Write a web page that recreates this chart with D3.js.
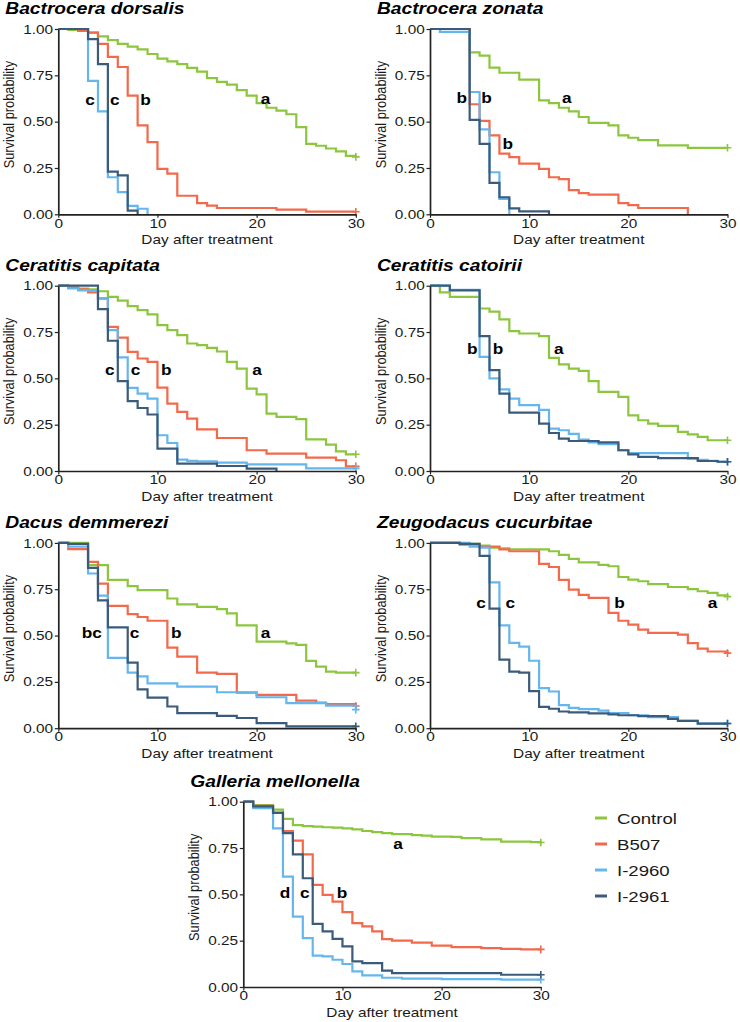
<!DOCTYPE html>
<html>
<head>
<meta charset="utf-8">
<script src="https://cdn.jsdelivr.net/npm/d3@7"></script>
<style>
  html, body { margin: 0; padding: 0; background: #fff; }
  svg { display: block; font-family: "Liberation Sans", Arial, Helvetica, sans-serif; }
</style>
</head>
<body>
<svg id="chart" width="740" height="1022"></svg>
<script>
// ---------------- DATA ----------------
const groups = ["Control", "B507", "I-2960", "I-2961"];
const groupColors = ["#8CC63F", "#F2694B", "#66B6EE", "#3B5B7B"];
const xTicks = [0, 10, 20, 30];
const yTicks = [0, 0.25, 0.5, 0.75, 1];
const yTickLabels = ["0.00", "0.25", "0.50", "0.75", "1.00"];
const xAxisTitle = "Day after treatment";
const yAxisTitle = "Survival probability";

// survival probability per day (index = day), curve stops where it reaches 0
const dorsalisControl = [1,0.995,0.99,0.98,0.96,0.94,0.92,0.905,0.89,0.865,0.84,0.825,0.81,0.79,0.77,0.735,0.715,0.70,0.67,0.64,0.60,0.575,0.56,0.54,0.47,0.38,0.37,0.355,0.34,0.315,0.31];
const dorsalisB507 = [1,1,0.99,0.98,0.92,0.85,0.795,0.64,0.48,0.39,0.245,0.22,0.10,0.10,0.06,0.047,0.034,0.034,0.034,0.034,0.034,0.034,0.025,0.025,0.025,0.014,0.014,0.014,0.014,0.014,0.014];
const dorsalisI2960 = [1,1,1,0.72,0.555,0.20,0.12,0.045,0.03,0];
const dorsalisI2961 = [1,1,1,0.945,0.81,0.23,0.21,0.02,0];
const dorsalisLetters = [[3.2,0.615,"c"],[5.7,0.615,"c"],[8.8,0.615,"b"],[20.9,0.62,"a"]];

const zonataControl = [1,1,1,1,0.874,0.856,0.792,0.764,0.764,0.727,0.727,0.615,0.60,0.575,0.555,0.525,0.493,0.493,0.48,0.426,0.413,0.40,0.40,0.372,0.372,0.372,0.359,0.359,0.359,0.359,0.359];
const zonataB507 = [1,1,1,1,0.594,0.504,0.426,0.327,0.309,0.273,0.273,0.245,0.20,0.19,0.13,0.114,0.106,0.106,0.106,0.06,0.05,0.034,0.034,0.034,0.034,0.034,0];
const zonataI2960 = [1,0.985,0.985,0.985,0.66,0.458,0.227,0.083,0];
const zonataI2961 = [1,1,1,1,0.51,0.38,0.17,0.092,0.032,0.016,0.016,0.016,0];
const zonataLetters = [[3.2,0.625,"b"],[5.7,0.625,"b"],[7.85,0.38,"b"],[13.8,0.625,"a"]];

const capitataControl = [1,0.99,0.985,0.98,0.97,0.94,0.919,0.89,0.868,0.845,0.787,0.76,0.733,0.688,0.679,0.665,0.645,0.589,0.553,0.445,0.414,0.31,0.292,0.292,0.28,0.171,0.171,0.142,0.106,0.09,0.09];
const capitataB507 = [1,0.99,0.98,0.964,0.932,0.778,0.72,0.643,0.607,0.589,0.45,0.364,0.319,0.283,0.225,0.225,0.178,0.178,0.178,0.112,0.112,0.094,0.094,0.094,0.094,0.072,0.072,0.072,0.058,0.025,0.025];
const capitataI2960 = [1,0.985,0.975,0.975,0.93,0.76,0.613,0.449,0.418,0.391,0.193,0.151,0.061,0.055,0.052,0.052,0.045,0.045,0.045,0.036,0.036,0.036,0.036,0.036,0.036,0.014,0.014,0.014,0.014,0.014,0.014];
const capitataI2961 = [1,1,1,1,0.874,0.703,0.485,0.377,0.34,0.305,0.121,0.121,0.04,0.04,0.04,0.04,0.027,0.027,0.027,0.013,0.013,0.013,0];
const capitataLetters = [[5.2,0.544,"c"],[7.8,0.544,"c"],[10.9,0.544,"b"],[20.05,0.544,"a"]];

const catoiriiControl = [1,0.964,0.94,0.94,0.94,0.877,0.86,0.818,0.755,0.742,0.742,0.728,0.61,0.575,0.553,0.54,0.485,0.427,0.427,0.40,0.30,0.274,0.256,0.243,0.243,0.211,0.198,0.184,0.166,0.166,0.166];
const catoiriiI2960 = [1,1,0.977,0.977,0.977,0.616,0.50,0.441,0.391,0.355,0.355,0.33,0.229,0.22,0.20,0.17,0.155,0.145,0.145,0.112,0.097,0.097,0.097,0.097,0.097,0.097,0.067,0.06,0.055,0.05,0.05];
const catoiriiI2961 = [1,1,0.975,0.975,0.975,0.728,0.544,0.418,0.315,0.315,0.315,0.256,0.205,0.175,0.162,0.162,0.162,0.155,0.155,0.112,0.09,0.076,0.076,0.07,0.07,0.07,0.07,0.054,0.054,0.05,0.05];
const catoiriiLetters = [[4.25,0.658,"b"],[6.85,0.658,"b"],[12.98,0.658,"a"]];

const demmereziControl = [1,1,1,0.88,0.88,0.80,0.80,0.767,0.745,0.745,0.745,0.70,0.668,0.668,0.655,0.655,0.643,0.62,0.555,0.555,0.467,0.467,0.467,0.458,0.45,0.363,0.332,0.305,0.30,0.30,0.30];
const demmereziB507 = [1,0.966,0.966,0.898,0.78,0.66,0.66,0.616,0.60,0.58,0.58,0.435,0.386,0.386,0.30,0.30,0.293,0.293,0.192,0.192,0.18,0.18,0.18,0.18,0.149,0.149,0.138,0.13,0.13,0.13,0.12];
const demmereziI2960 = [1,0.98,0.98,0.835,0.715,0.38,0.38,0.30,0.28,0.242,0.242,0.242,0.224,0.224,0.224,0.224,0.194,0.194,0.194,0.194,0.167,0.167,0.167,0.135,0.135,0.135,0.135,0.122,0.122,0.122,0.10];
const demmereziI2961 = [1,0.995,0.995,0.865,0.69,0.544,0.544,0.354,0.21,0.165,0.165,0.117,0.081,0.081,0.081,0.081,0.066,0.066,0.055,0.055,0.027,0.027,0.027,0.01,0.01,0.01,0.01,0.01,0.01,0.01,0.01];
const demmereziLetters = [[3.37,0.512,"bc"],[7.7,0.512,"c"],[11.9,0.512,"b"],[20.9,0.512,"a"]];

const cucurbitaeControl = [1,1,1,0.995,0.995,0.985,0.975,0.97,0.965,0.965,0.965,0.965,0.955,0.935,0.914,0.895,0.895,0.881,0.874,0.816,0.802,0.793,0.778,0.778,0.762,0.762,0.751,0.739,0.73,0.717,0.71];
const cucurbitaeB507 = [1,1,1,0.99,0.99,0.98,0.98,0.965,0.955,0.955,0.955,0.887,0.87,0.80,0.748,0.72,0.703,0.703,0.622,0.58,0.559,0.532,0.514,0.514,0.514,0.505,0.459,0.429,0.414,0.414,0.405];
const cucurbitaeI2960 = [1,1,1,1,0.98,0.975,0.787,0.555,0.46,0.44,0.364,0.216,0.198,0.125,0.11,0.103,0.103,0.095,0.081,0.081,0.07,0.07,0.06,0.06,0.06,0.04,0.04,0.025,0.025,0.025,0.025];
const cucurbitaeI2961 = [1,1,1,0.995,0.995,0.93,0.645,0.37,0.305,0.30,0.20,0.115,0.105,0.09,0.085,0.085,0.08,0.08,0.075,0.07,0.07,0.065,0.065,0.065,0.05,0.04,0.04,0.025,0.025,0.025,0.025];
const cucurbitaeLetters = [[5.16,0.676,"c"],[8.1,0.676,"c"],[19.1,0.676,"b"],[28.5,0.676,"a"]];

const mellonellaControl = [1,0.982,0.982,0.957,0.907,0.874,0.868,0.865,0.862,0.86,0.856,0.851,0.842,0.836,0.83,0.825,0.825,0.82,0.817,0.812,0.812,0.81,0.803,0.803,0.797,0.797,0.785,0.785,0.785,0.782,0.78];
const mellonellaB507 = [1,0.977,0.977,0.941,0.842,0.79,0.716,0.551,0.497,0.461,0.404,0.345,0.327,0.30,0.258,0.25,0.25,0.24,0.24,0.223,0.223,0.215,0.215,0.215,0.21,0.21,0.206,0.206,0.203,0.203,0.203];
const mellonellaI2960 = [1,0.965,0.965,0.856,0.596,0.38,0.264,0.169,0.165,0.147,0.124,0.084,0.063,0.063,0.05,0.05,0.045,0.045,0.045,0.045,0.043,0.043,0.043,0.043,0.042,0.042,0.04,0.04,0.04,0.04,0.04];
const mellonellaI2961 = [1,0.975,0.975,0.94,0.83,0.716,0.587,0.341,0.30,0.26,0.219,0.138,0.129,0.129,0.088,0.075,0.075,0.075,0.075,0.075,0.075,0.075,0.075,0.075,0.075,0.075,0.066,0.066,0.066,0.066,0.066];
const mellonellaLetters = [[15.6,0.772,"a"],[4.2,0.506,"d"],[6.2,0.506,"c"],[9.95,0.506,"b"]];

const titles = ["Bactrocera dorsalis","Bactrocera zonata","Ceratitis capitata","Ceratitis catoirii","Dacus demmerezi","Zeugodacus cucurbitae","Galleria mellonella"];

// ---------------- LAYOUT ----------------
const PW = 297.5, PH = 185.3, SX = 1.2;
const panels = [
  {x0: 58.3, y1: 29,    series: [dorsalisControl, dorsalisB507, dorsalisI2960, dorsalisI2961], letters: dorsalisLetters},
  {x0: 430,  y1: 29,    series: [zonataControl, zonataB507, zonataI2960, zonataI2961], letters: zonataLetters},
  {x0: 58.3, y1: 285.7, series: [capitataControl, capitataB507, capitataI2960, capitataI2961], letters: capitataLetters},
  {x0: 430,  y1: 285.7, series: [catoiriiControl, null, catoiriiI2960, catoiriiI2961], letters: catoiriiLetters},
  {x0: 58.3, y1: 542.9, series: [demmereziControl, demmereziB507, demmereziI2960, demmereziI2961], letters: demmereziLetters},
  {x0: 430,  y1: 542.9, series: [cucurbitaeControl, cucurbitaeB507, cucurbitaeI2960, cucurbitaeI2961], letters: cucurbitaeLetters},
  {x0: 243.3, y1: 801.7, series: [mellonellaControl, mellonellaB507, mellonellaI2960, mellonellaI2961], letters: mellonellaLetters}
];
panels.forEach((p, i) => p.title = titles[i]);

const svg = d3.select("#chart");
svg.append("rect").attr("width", 740).attr("height", 1022).attr("fill", "#fff");

function stretchedText(g, x, y, str, extra) {
  return g.append("text")
    .attr("transform", `translate(${x},${y}) scale(${SX},1)` + (extra || ""))
    .text(str);
}

panels.forEach(p => {
  const x = d3.scaleLinear().domain([0, 30]).range([p.x0, p.x0 + PW]);
  const y = d3.scaleLinear().domain([0, 1]).range([p.y1 + PH, p.y1]);
  const g = svg.append("g");

  const line = d3.line().x((d, i) => x(i)).y(d => y(d)).curve(d3.curveStepAfter);

  p.series.forEach((s, k) => {
    if (!s) return;
    g.append("path").datum(s)
      .attr("d", line)
      .attr("fill", "none")
      .attr("stroke", groupColors[k])
      .attr("stroke-width", 2.2)
      .attr("stroke-linejoin", "miter");
    const last = s[s.length - 1];
    if (s.length === 31 && last > 0) {
      const cx = x(30), cy = y(last);
      g.append("path")
        .attr("d", `M${cx - 3.8},${cy}H${cx + 3.8}M${cx},${cy - 3.8}V${cy + 3.8}`)
        .attr("stroke", groupColors[k]).attr("stroke-width", 1.6).attr("fill", "none");
    }
  });

  // axes
  const ax = g.append("g").attr("transform", `translate(0,${p.y1 + PH})`)
    .call(d3.axisBottom(x).tickValues(xTicks).tickSize(3.5).tickSizeOuter(0).tickPadding(3));
  const ay = g.append("g").attr("transform", `translate(${p.x0},0)`)
    .call(d3.axisLeft(y).tickValues(yTicks).tickFormat((d, i) => yTickLabels[i]).tickSize(3.5).tickSizeOuter(0));
  [ax, ay].forEach(a => {
    a.select(".domain").attr("stroke", "#222").attr("stroke-width", 1.7);
    a.selectAll(".tick line").attr("stroke", "#222").attr("stroke-width", 1.2);
    a.selectAll(".tick text").attr("font-size", 12.8).attr("fill", "#1a1a1a")
      .attr("font-family", "Liberation Sans, Arial, sans-serif");
  });
  ax.selectAll(".tick text").attr("transform", `scale(${SX},1)`).attr("y", 4.2);
  ay.selectAll(".tick text").attr("transform", `scale(${SX},1)`).attr("x", -5.3 / SX);

  // axis titles
  stretchedText(g, p.x0 + PW / 2, p.y1 + PH + 30, xAxisTitle)
    .attr("text-anchor", "middle").attr("font-size", 12.8).attr("fill", "#1a1a1a");
  stretchedText(g, p.x0 - 44, p.y1 + PH / 2 - 7, yAxisTitle, " rotate(-90)")
    .attr("text-anchor", "middle").attr("font-size", 12.8).attr("fill", "#1a1a1a");

  // panel title
  stretchedText(g, p.x0 - 53, p.y1 - 15, p.title)
    .attr("font-size", 16).attr("font-weight", "bold").attr("font-style", "italic").attr("fill", "#000");

  // significance letters
  p.letters.forEach(l => {
    g.append("text")
      .attr("transform", `translate(${x(l[0])},${y(l[1]) + 5}) scale(1.15,1)`)
      .attr("text-anchor", "middle").attr("font-size", 15).attr("font-weight", "bold")
      .attr("fill", "#000").text(l[2]);
  });
});

// legend
const legendY = [818, 844, 870, 896];
const lg = svg.append("g");
groups.forEach((name, i) => {
  lg.append("line").attr("x1", 595).attr("x2", 607).attr("y1", legendY[i]).attr("y2", legendY[i])
    .attr("stroke", groupColors[i]).attr("stroke-width", 3);
  stretchedText(lg, 617, legendY[i] + 5.6, name).attr("font-size", 15.5).attr("fill", "#1a1a1a");
});
</script>
</body>
</html>
